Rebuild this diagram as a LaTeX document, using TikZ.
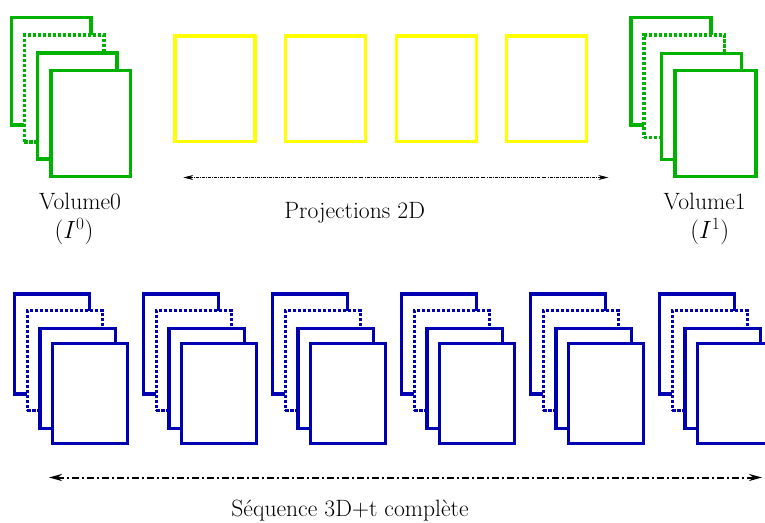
\documentclass[tikz,border=0pt]{standalone}
\usetikzlibrary{arrows.meta}
\definecolor{vgreen}{RGB}{0,178,0}
\definecolor{vblue}{RGB}{0,0,178}
\definecolor{vyellow}{RGB}{255,255,0}
\begin{document}
\begin{tikzpicture}[x=1pt,y=-1pt,
  sheet/.style={draw,fill=white,line width=3.2pt,inner sep=0pt,outer sep=0pt,anchor=north west},
  dotsheet/.style={sheet,dash pattern=on 3.2pt off 1.8pt},
  gsheet/.style={sheet,draw=vgreen},
  gdot/.style={dotsheet,draw=vgreen},
  bsheet/.style={sheet,draw=vblue,minimum width=75.5pt,minimum height=100pt},
  bdot/.style={dotsheet,draw=vblue,minimum width=75.5pt,minimum height=100pt},
  ysheet/.style={draw=vyellow,line width=3.2pt,inner sep=0pt,outer sep=0pt,anchor=north west,minimum width=80pt,minimum height=105.7pt},
  lbl/.style={inner sep=0pt,font=\fontsize{23.6}{28}\selectfont},
  thinarrow/.style={line width=0.7pt,dash pattern=on 3pt off 1.2pt on 0.7pt off 1.2pt,{Stealth[length=10pt,width=5pt]}-{Stealth[length=10pt,width=5pt]}},
  thickarrow/.style={line width=2pt,dash pattern=on 7pt off 3pt on 2pt off 3pt,{Stealth[length=13pt,width=7pt]}-{Stealth[length=13pt,width=7pt]}}
]
\useasboundingbox (0,0) rectangle (765,522);

% green volume 0
\node[gsheet,minimum width=79.3pt,minimum height=107.7pt] (g0a) at (11.7,17.3) {};
\node[gdot,minimum width=79.7pt,minimum height=107pt] (g0b) at (24.3,35) {};
\node[gsheet,minimum width=79.3pt,minimum height=106pt] (g0c) at (37.7,53) {};
\node[gsheet,minimum width=79.7pt,minimum height=106pt] (g0d) at (51,70.7) {};

% green volume 1
\node[gsheet,minimum width=80pt,minimum height=107.7pt] (g1a) at (631,17.3) {};
\node[gdot,minimum width=80.3pt,minimum height=102.3pt] (g1b) at (644,35) {};
\node[gsheet,minimum width=80pt,minimum height=106pt] (g1c) at (661.7,53.3) {};
\node[gsheet,minimum width=81pt,minimum height=106pt] (g1d) at (675,70.7) {};

% yellow projections
\foreach \i in {0,...,3}{
  \node[ysheet] (y\i) at ({175+110.6*\i},36) {};
}

% blue sequence
\foreach \i in {0,...,5}{
  \pgfmathsetmacro{\bx}{14.3+129*\i}
  \node[bsheet] (b\i a) at (\bx,294) {};
  \node[bdot]   (b\i b) at (\bx+13,310.7) {};
  \node[bsheet] (b\i c) at (\bx+25.7,328.3) {};
  \node[bsheet] (b\i d) at (\bx+38,343.3) {};
}

% labels
\node[lbl] (v0) at (80,201) {Volume0};
\node[lbl] (i0) at (74,232) {$(I^0)$};
\node[lbl] (v1) at (704.7,201) {Volume1};
\node[lbl] (i1) at (709.7,232) {$(I^1)$};
\node[lbl] (proj) at (354.7,213) {Projections 2D};
\node[lbl] (seq) at (350,511) {Séquence 3D+t complète};

% arrows
\coordinate (pl) at (183.3,177.5);
\coordinate (pr) at (608.3,177.5);
\draw[thinarrow] (pl) -- (pr);
\coordinate (sl) at (49,477.5);
\coordinate (sr) at (762,477.5);
\draw[thickarrow] (sl) -- (sr);
\end{tikzpicture}
\end{document}
